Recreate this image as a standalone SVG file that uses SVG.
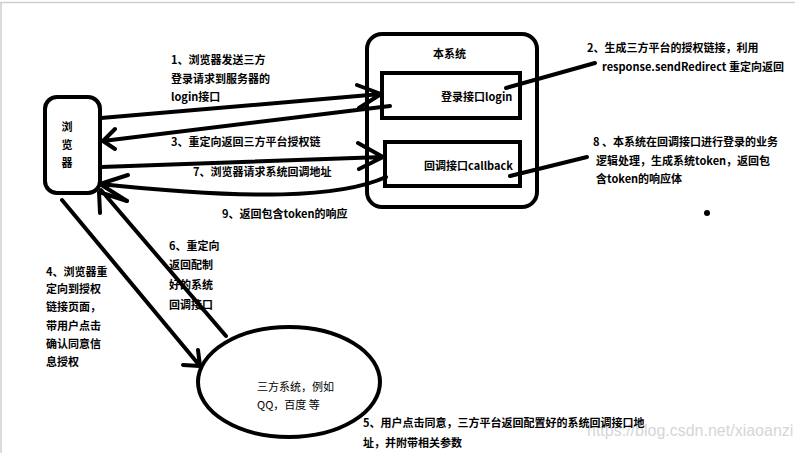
<svg xmlns="http://www.w3.org/2000/svg" width="799" height="453" viewBox="0 0 799 453">
<style>
.t{font-family:"Noto Sans CJK SC","Noto Sans",sans-serif;font-size:11px;font-weight:bold;fill:#000}
.n{font-weight:normal}
.box{fill:none;stroke:#000;stroke-width:4}
.ln{fill:none;stroke:#000;stroke-width:4;stroke-linecap:round;stroke-linejoin:round}
.wm{font-family:"Liberation Sans",Arial,sans-serif;font-size:16px;fill:#d6d6d6}
</style>
<rect width="799" height="453" fill="#fff"/>
<line x1="0" y1="2.5" x2="795" y2="2.5" stroke="#cfcfcf" stroke-width="1.5"/>
<line x1="1" y1="2" x2="1" y2="453" stroke="#cfcfcf" stroke-width="1.5"/>
<text class="wm" x="587" y="436">https://blog.csdn.net/xiaoanzi</text>

<g id="browser">
<rect class="box" x="45" y="97" width="55" height="96" rx="12"/>
<text class="t" x="67" y="131" text-anchor="middle">浏</text>
<text class="t" x="67" y="149" text-anchor="middle">览</text>
<text class="t" x="67" y="167" text-anchor="middle">器</text>
</g>

<g id="system">
<rect class="box" x="367" y="34" width="170" height="173" rx="15"/>
<text class="t" x="433" y="58">本系统</text>
</g>
<g id="login">
<rect class="box" x="382" y="73" width="138" height="45"/>
<text class="t" x="441" y="101">登录接口login</text>
</g>
<g id="callback">
<rect class="box" x="385" y="142" width="135" height="44"/>
<text class="t" x="424" y="170">回调接口callback</text>
</g>
<g id="third">
<ellipse class="box" cx="289" cy="382" rx="91" ry="55"/>
<text class="t n" x="257" y="391">三方系统，例如</text>
<text class="t n" x="257" y="409">QQ，百度 等</text>
</g>

<g id="connectors">
<path class="ln" d="M101,118 L381,94 M357,85 L381,94 L359,108"/>
<path class="ln" d="M390,106 L103,141 M115,129 L103,141 L115,149"/>
<path class="ln" d="M101,167 L383,157 M358,143 L383,157 L359,169"/>
<path class="ln" d="M386,177 C340,198 250,200 100,184 M128,175 L100,184 L127,201"/>
<path class="ln" d="M226,336 L101,190 M100,213 L99,192 L127,201"/>
<path class="ln" d="M62,200 L200,366 M183,365 L200,366 L198,350"/>
<path class="ln" d="M506,88 L595,63"/>
<path class="ln" d="M510,176 L587,157"/>
</g>

<g id="labels">
<text class="t" x="171" y="64">1、浏览器发送三方</text>
<text class="t" x="171" y="83">登录请求到服务器的</text>
<text class="t" x="171" y="101">login接口</text>
<text class="t" x="171" y="146">3、重定向返回三方平台授权链</text>
<text class="t" x="193" y="176">7、浏览器请求系统回调地址</text>
<text class="t" x="222" y="218">9、返回包含token的响应</text>
<text class="t" x="587" y="52">2、生成三方平台的授权链接，利用</text>
<text class="t" x="602" y="71">response.sendRedirect 重定向返回</text>
<text class="t" x="593" y="146">8 、本系统在回调接口进行登录的业务</text>
<text class="t" x="596" y="165">逻辑处理，生成系统token，返回包</text>
<text class="t" x="596" y="183">含token的响应体</text>
<text class="t" x="46" y="276">4、浏览器重</text>
<text class="t" x="46" y="293">定向到授权</text>
<text class="t" x="46" y="311">链接页面，</text>
<text class="t" x="46" y="330">带用户点击</text>
<text class="t" x="46" y="348">确认同意信</text>
<text class="t" x="46" y="366">息授权</text>
<text class="t" x="169" y="250">6、重定向</text>
<text class="t" x="169" y="269">返回配制</text>
<text class="t" x="169" y="289">好的系统</text>
<text class="t" x="169" y="309">回调接口</text>
<text class="t" x="363" y="427">5、用户点击同意，三方平台返回配置好的系统回调接口地</text>
<text class="t" x="363" y="447">址，并附带相关参数</text>
</g>
<circle cx="707" cy="213" r="3" fill="#000"/>
</svg>
